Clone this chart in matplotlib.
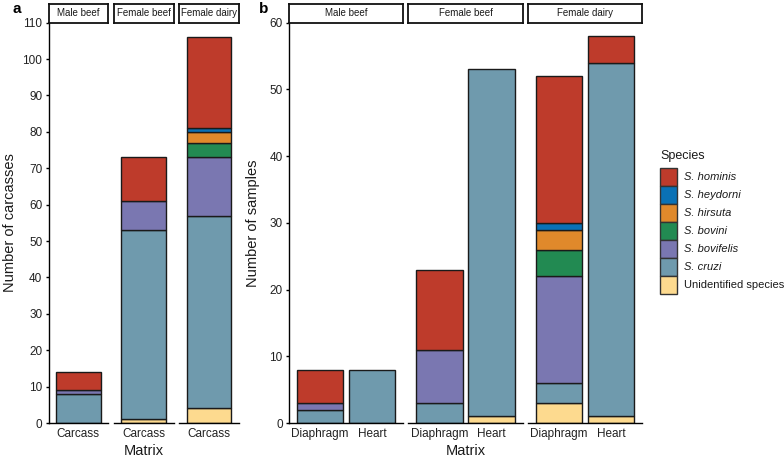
import matplotlib
matplotlib.use("Agg")
import matplotlib.pyplot as plt
from matplotlib.patches import Rectangle

plt.rcParams['font.family'] = ['Liberation Sans', 'DejaVu Sans']

W, H = 784, 463

# legend order (top to bottom) and colours
species = ['S. hominis', 'S. heydorni', 'S. hirsuta', 'S. bovini',
           'S. bovifelis', 'S. cruzi', 'Unidentified species']
colors = ['#BE3B2B', '#0A71B5', '#E0892B', '#228A52',
          '#7A77B1', '#6F9AAD', '#FDDA8F']

groups = ['Male beef', 'Female beef', 'Female dairy']

# counts listed bottom-up: unidentified, cruzi, bovifelis, bovini, hirsuta, heydorni, hominis
carcass_male_beef = [0, 8, 1, 0, 0, 0, 5]
carcass_female_beef = [1, 52, 8, 0, 0, 0, 12]
carcass_female_dairy = [4, 53, 16, 4, 3, 1, 25]

matrices = ['Diaphragm', 'Heart']
diaphragm_male_beef = [0, 2, 1, 0, 0, 0, 5]
heart_male_beef = [0, 8, 0, 0, 0, 0, 0]
diaphragm_female_beef = [0, 3, 8, 0, 0, 0, 12]
heart_female_beef = [1, 52, 0, 0, 0, 0, 0]
diaphragm_female_dairy = [3, 3, 16, 4, 3, 1, 22]
heart_female_dairy = [1, 53, 0, 0, 0, 0, 4]

stack_colors = colors[::-1]


def rect(x0, y0, x1, y1):
    return [x0 / W, 1 - y1 / H, (x1 - x0) / W, (y1 - y0) / H]


def facet(fig, x0, x1, cats, stacks, ymax, title, first):
    ax = fig.add_axes(rect(x0, 22.7, x1, 423))
    for i, counts in enumerate(stacks):
        bottom = 0
        for v, c in zip(counts, stack_colors):
            if v > 0:
                ax.bar(i, v, bottom=bottom, width=0.9, color=c,
                       edgecolor='#1a1a1a', linewidth=1.0)
            bottom += v
    ax.set_xlim(-0.6, len(cats) - 1 + 0.6)
    ax.set_ylim(0, ymax)
    ax.set_xticks(range(len(cats)))
    ax.set_xticklabels(cats, fontsize=8.5, color='#222222')
    ax.tick_params(axis='x', length=0, pad=3.5)
    for s in ['top', 'right']:
        ax.spines[s].set_visible(False)
    ax.spines['bottom'].set_linewidth(1.0)
    if first:
        ax.spines['left'].set_linewidth(1.0)
        ax.set_yticks(range(0, ymax + 1, 10))
        ax.tick_params(axis='y', length=2.5, width=1.0, pad=2,
                       labelsize=8.5, labelcolor='#222222')
    else:
        ax.spines['left'].set_visible(False)
        ax.set_yticks([])
    # strip
    st = fig.add_axes(rect(x0, 4, x1, 22.5))
    st.set_xticks([])
    st.set_yticks([])
    for s in st.spines.values():
        s.set_linewidth(1.3)
        s.set_color('#111111')
    st.text(0.5, 0.5, title, ha='center', va='center', fontsize=7,
            transform=st.transAxes, color='#1a1a1a')
    return ax


fig = plt.figure(figsize=(W / 100, H / 100), dpi=100)

# panel a
a_edges = [(48.5, 108), (113.5, 174), (179, 239)]
a_stacks = [[carcass_male_beef], [carcass_female_beef], [carcass_female_dairy]]
for k, ((x0, x1), g) in enumerate(zip(a_edges, groups)):
    facet(fig, x0, x1, ['Carcass'], a_stacks[k], 110, g, k == 0)

# panel b
b_edges = [(289, 403), (408, 523), (528, 642)]
b_stacks = [[diaphragm_male_beef, heart_male_beef],
            [diaphragm_female_beef, heart_female_beef],
            [diaphragm_female_dairy, heart_female_dairy]]
for k, ((x0, x1), g) in enumerate(zip(b_edges, groups)):
    facet(fig, x0, x1, matrices, b_stacks[k], 60, g, k == 0)

# axis titles and panel letters
fig.text(10 / W, 1 - 223 / H, 'Number of carcasses', rotation=90,
         ha='center', va='center', fontsize=10.5, color='#1a1a1a')
fig.text(253 / W, 1 - 223 / H, 'Number of samples', rotation=90,
         ha='center', va='center', fontsize=10.5, color='#1a1a1a')
fig.text(144 / W, 1 - 451 / H, 'Matrix', ha='center', va='center',
         fontsize=10.5, color='#1a1a1a')
fig.text(466 / W, 1 - 451 / H, 'Matrix', ha='center', va='center',
         fontsize=10.5, color='#1a1a1a')
fig.text(17 / W, 1 - 9 / H, 'a', ha='center', va='center',
         fontsize=11, fontweight='bold')
fig.text(264 / W, 1 - 9 / H, 'b', ha='center', va='center',
         fontsize=11, fontweight='bold')

# legend
lg = fig.add_axes([0, 0, 1, 1], zorder=-1)
lg.set_xlim(0, W)
lg.set_ylim(H, 0)
lg.axis('off')
lg.text(660, 156, 'Species', ha='left', va='center', fontsize=9,
        color='#1a1a1a')
key_h = 18.1
for i, (name, c) in enumerate(zip(species, colors)):
    y = 167.7 + i * key_h
    lg.add_patch(Rectangle((660, y), 17, key_h, facecolor=c,
                           edgecolor='#333333', linewidth=1.0))
    lg.text(684, y + key_h / 2, name, ha='left', va='center', fontsize=8,
            color='#1a1a1a',
            style='normal' if name.startswith('Unid') else 'italic')

fig.savefig('out.png', dpi=100)
